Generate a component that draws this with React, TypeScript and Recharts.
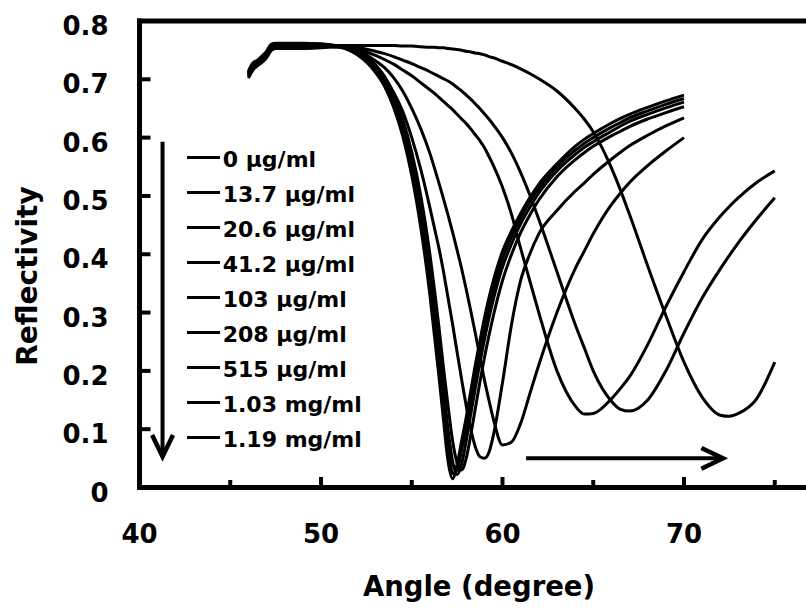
import { LineChart, Line, XAxis, YAxis, ReferenceLine } from 'recharts'

const FONT = 'DejaVu Sans'

const angles = [46, 46.25, 46.5, 46.75, 47, 47.25, 47.5, 48, 49, 50, 51, 52, 53, 53.5, 54, 54.5, 55, 55.5, 56, 56.25, 56.5, 56.75, 57, 57.25, 57.5, 57.75, 58, 58.25, 58.5, 58.75, 59, 59.25, 59.5, 60, 60.5, 61, 61.5, 62, 63, 64, 64.5, 65, 66, 66.5, 67, 68, 69, 70, 71, 72, 72.5, 73, 74, 75]

const seriesNames = ['0 µg/ml', '13.7 µg/ml', '20.6 µg/ml', '41.2 µg/ml', '103 µg/ml', '208 µg/ml', '515 µg/ml', '1.03 mg/ml', '1.19 mg/ml']

const c0 = [0.708, 0.722, 0.728, 0.735, 0.742, 0.754, 0.757, 0.757, 0.758, 0.757,
  0.755, 0.742, 0.712, 0.688, 0.652, 0.603, 0.535, 0.445, 0.33,
  0.26, 0.19, 0.115, 0.045, 0.015, 0.04, 0.08, 0.12,
  0.165, 0.21, 0.25, 0.29, 0.325, 0.355,
  0.405, 0.44, 0.47, 0.497, 0.52,
  0.555, 0.585, 0.597, 0.607,
  0.625, 0.633, 0.64,
  0.652, 0.663, 0.673]
const c1 = [0.712, 0.726, 0.731, 0.738, 0.746, 0.758, 0.761, 0.76, 0.761, 0.76,
  0.756, 0.744, 0.716, 0.693, 0.658, 0.61, 0.545, 0.46, 0.35,
  0.285, 0.215, 0.14, 0.075, 0.024, 0.03, 0.065, 0.1,
  0.145, 0.19, 0.232, 0.272, 0.308, 0.34,
  0.392, 0.43, 0.462, 0.49, 0.513,
  0.55, 0.578, 0.59, 0.6,
  0.618, 0.626, 0.634,
  0.646, 0.657, 0.667]
const c2 = [0.704, 0.718, 0.725, 0.731, 0.739, 0.751, 0.754, 0.755, 0.754, 0.755,
  0.756, 0.745, 0.72, 0.698, 0.665, 0.62, 0.558, 0.48, 0.375,
  0.31, 0.24, 0.17, 0.1, 0.045, 0.022, 0.04, 0.08,
  0.125, 0.17, 0.213, 0.253, 0.29, 0.323,
  0.378, 0.418, 0.452, 0.48, 0.505,
  0.543, 0.571, 0.583, 0.593,
  0.611, 0.62, 0.628,
  0.64, 0.651, 0.661]
const c3 = [0.71, 0.724, 0.73, 0.737, 0.744, 0.756, 0.759, 0.759, 0.76, 0.759,
  0.757, 0.747, 0.725, 0.705, 0.675, 0.632, 0.575, 0.5, 0.4,
  0.34, 0.275, 0.205, 0.14, 0.08, 0.042, 0.03, 0.05,
  0.09, 0.135, 0.18, 0.222, 0.26, 0.295,
  0.355, 0.4, 0.437, 0.467, 0.493,
  0.533, 0.562, 0.574, 0.585,
  0.603, 0.611, 0.619,
  0.632, 0.643, 0.653]
const c4 = [0.706, 0.72, 0.727, 0.733, 0.74, 0.752, 0.755, 0.756, 0.756, 0.756,
  0.756, 0.746, 0.722, 0.703, 0.678, 0.645, 0.6, 0.545, 0.48,
  0.445, 0.41, 0.37, 0.325, 0.28, 0.232, 0.185, 0.14,
  0.1, 0.07, 0.053, 0.05, 0.06, 0.09,
  0.18, 0.28, 0.355, 0.4, 0.435,
  0.475, 0.508, 0.522, 0.537,
  0.563, 0.575, 0.586,
  0.604, 0.62, 0.634]
const c5 = [0.714, 0.728, 0.733, 0.74, 0.748, 0.76, 0.762, 0.762, 0.762, 0.761,
  0.757, 0.749, 0.732, 0.72, 0.703, 0.68, 0.65, 0.615, 0.573,
  0.548, 0.522, 0.495, 0.467, 0.438, 0.407, 0.375, 0.34,
  0.303, 0.265, 0.225, 0.185, 0.15, 0.117,
  0.073, 0.078, 0.11, 0.16, 0.21,
  0.3, 0.375, 0.405, 0.435,
  0.485, 0.505, 0.523,
  0.552, 0.577, 0.6]
const c6 = [0.702, 0.716, 0.723, 0.729, 0.737, 0.749, 0.753, 0.753, 0.753, 0.754,
  0.758, 0.752, 0.741, 0.734, 0.726, 0.716, 0.706, 0.694, 0.682,
  0.676, 0.669, 0.662, 0.655, 0.648, 0.64, 0.632, 0.624,
  0.615, 0.605, 0.595, 0.583, 0.568, 0.552,
  0.515, 0.468, 0.41, 0.355, 0.3,
  0.2, 0.14, 0.126, 0.127,
  0.152, 0.17, 0.19,
  0.245, 0.31, 0.37,
  0.425, 0.465, 0.482, 0.497, 0.523, 0.543]
const c7 = [0.711, 0.725, 0.729, 0.736, 0.745, 0.757, 0.76, 0.759, 0.759, 0.758,
  0.758, 0.755, 0.748, 0.744, 0.739, 0.733, 0.727, 0.72, 0.713,
  0.709, 0.705, 0.701, 0.697, 0.692, 0.686, 0.68, 0.673,
  0.666, 0.658, 0.65, 0.641, 0.632, 0.622,
  0.6, 0.573, 0.54, 0.502, 0.46,
  0.37, 0.28, 0.24, 0.2,
  0.148, 0.134, 0.131,
  0.15, 0.2, 0.265,
  0.325, 0.375, 0.398, 0.42, 0.46, 0.497]
const c8 = [0.707, 0.721, 0.726, 0.734, 0.741, 0.753, 0.756, 0.758, 0.757, 0.758,
  0.758, 0.758, 0.758, 0.758, 0.758, 0.757, 0.757, 0.756, 0.755,
  0.755, 0.754, 0.754, 0.753, 0.752, 0.751, 0.75, 0.748,
  0.747, 0.745, 0.744, 0.742, 0.739, 0.737,
  0.731, 0.725, 0.718, 0.71, 0.701,
  0.68, 0.65, 0.632, 0.61,
  0.548, 0.51, 0.468,
  0.38, 0.295, 0.215,
  0.155, 0.124, 0.122, 0.127, 0.152, 0.215]

const seriesValues = [c0, c1, c2, c3, c4, c5, c6, c7, c8]

const xTicks = [40, 45, 50, 55, 60, 65, 70, 75, 80]
const xLabelled = [40, 50, 60, 70]
const yTicks = [0, 0.1, 0.2, 0.3, 0.4, 0.5, 0.6, 0.7, 0.8]

// arrows (data coordinates)
const downArrow = [{ x: 41.27, y: 0.593 }, { x: 41.27, y: 0.053 }]
const rightArrow = [{ x: 61.3, y: 0.05 }, { x: 72.15, y: 0.05 }]

const rows = angles.map((a, i) => {
  const row: any = { angle: a }
  seriesValues.forEach((vals, k) => {
    row['s' + k] = vals[i] ?? null
  })
  return row
})

const XTick = ({ x, y, payload }: any) => {
  const v = payload.value
  const major = v % 10 === 0
  return (
    <g>
      {v > 40 && v < 80 && (
        <line x1={x} x2={x} y1={y} y2={y - (major ? 10.5 : 7.5)} stroke="#000" strokeWidth={4} />
      )}
      {xLabelled.includes(v) && (
        <text x={x} y={y + 55.5} textAnchor="middle" fontFamily={FONT} fontWeight="bold" fontSize={26} fill="#000">
          {v}
        </text>
      )}
    </g>
  )
}

const YTick = ({ x, y, payload }: any) => {
  const v = payload.value
  return (
    <g>
      {v > 0 && v < 0.8 && <line x1={x} x2={x + 11} y1={y} y2={y} stroke="#000" strokeWidth={4} />}
      <text x={x - 31} y={y + 14} textAnchor="end" fontFamily={FONT} fontWeight="bold" fontSize={26} fill="#000">
        {v === 0 ? '0' : v.toFixed(1)}
      </text>
    </g>
  )
}

const Arrow = (props: any) => {
  const { x1, y1, x2, y2 } = props
  const ang = Math.atan2(y2 - y1, x2 - x1)
  const len = 24
  const spread = 0.45
  const ax = x2 - len * Math.cos(ang - spread)
  const ay = y2 - len * Math.sin(ang - spread)
  const bx = x2 - len * Math.cos(ang + spread)
  const by = y2 - len * Math.sin(ang + spread)
  return (
    <g>
      <line x1={x1} y1={y1} x2={x2 - 2 * Math.cos(ang)} y2={y2 - 2 * Math.sin(ang)} stroke="#000" strokeWidth={4} />
      <polyline points={`${ax},${ay} ${x2},${y2} ${bx},${by}`} fill="none" stroke="#000" strokeWidth={4.5} />
    </g>
  )
}

export default function App() {
  return (
    <div
      style={{
        position: 'absolute',
        left: 0,
        top: 0,
        width: 806,
        height: 609,
        overflow: 'hidden',
        background: '#fff',
        fontFamily: FONT,
      }}
    >
      <LineChart width={870} height={609} data={rows} margin={{ top: 21, right: 4.5, bottom: 0, left: 0 }}>
        <XAxis
          dataKey="angle"
          type="number"
          domain={[40, 80]}
          ticks={xTicks}
          interval={0}
          height={121.5}
          tickLine={false}
          tickSize={0}
          tickMargin={0}
          axisLine={{ stroke: '#000', strokeWidth: 5, strokeLinecap: 'square' }}
          tick={XTick}
        />
        <YAxis
          type="number"
          domain={[0, 0.8]}
          ticks={yTicks}
          interval={0}
          width={139.5}
          tickLine={false}
          tickSize={0}
          tickMargin={0}
          axisLine={{ stroke: '#000', strokeWidth: 5, strokeLinecap: 'square' }}
          tick={YTick}
        />
        <ReferenceLine y={0.8} stroke="#000" strokeWidth={5} strokeLinecap="square" />
        <ReferenceLine x={80} stroke="#000" strokeWidth={5} />
        <ReferenceLine segment={downArrow} shape={Arrow} />
        <ReferenceLine segment={rightArrow} shape={Arrow} />
        {seriesNames.map((name, k) => (
          <Line
            key={name}
            name={name}
            dataKey={'s' + k}
            type="monotone"
            stroke="#000"
            strokeWidth={3}
            dot={false}
            activeDot={false}
            connectNulls={false}
            isAnimationActive={false}
          />
        ))}
      </LineChart>

      {/* legend */}
      <div style={{ position: 'absolute', left: 186.7, top: 141.8 }}>
        {seriesNames.map((name) => (
          <div key={name} style={{ display: 'flex', alignItems: 'center', height: 35 }}>
            <span style={{ display: 'inline-block', width: 33, height: 3, background: '#000', marginRight: 3, marginTop: -4 }} />
            <span style={{ fontSize: 22, fontWeight: 'bold', lineHeight: '35px', color: '#000', whiteSpace: 'nowrap' }}>
              {name}
            </span>
          </div>
        ))}
      </div>

      {/* axis titles */}
      <svg width={806} height={609} style={{ position: 'absolute', left: 0, top: 0, pointerEvents: 'none' }}>
        <text x={479} y={596} textAnchor="middle" fontFamily={FONT} fontWeight="bold" fontSize={27.5} fill="#000">
          Angle (degree)
        </text>
        <text
          transform="translate(37,276) rotate(-90)"
          textAnchor="middle"
          fontFamily={FONT}
          fontWeight="bold"
          fontSize={28}
          fill="#000"
        >
          Reflectivity
        </text>
      </svg>
    </div>
  )
}
